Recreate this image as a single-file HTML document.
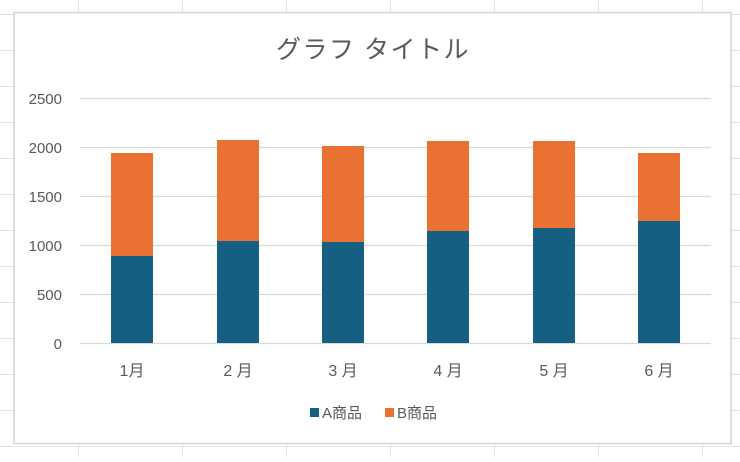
<!DOCTYPE html>
<html><head><meta charset="utf-8"><style>
body{margin:0;width:740px;height:457px;background:#fff;overflow:hidden}
svg text{font-family:"Liberation Sans","Noto Sans CJK JP",sans-serif;fill:#595959}
</style></head><body>
<svg width="740" height="457" xmlns="http://www.w3.org/2000/svg">
<g stroke="#e1e1e1" stroke-width="1">
<line x1="0" y1="14.5" x2="740" y2="14.5"/><line x1="0" y1="50.5" x2="740" y2="50.5"/><line x1="0" y1="86.5" x2="740" y2="86.5"/>
<line x1="0" y1="122.5" x2="740" y2="122.5"/><line x1="0" y1="158.5" x2="740" y2="158.5"/><line x1="0" y1="194.5" x2="740" y2="194.5"/>
<line x1="0" y1="230.5" x2="740" y2="230.5"/><line x1="0" y1="266.5" x2="740" y2="266.5"/><line x1="0" y1="302.5" x2="740" y2="302.5"/>
<line x1="0" y1="338.5" x2="740" y2="338.5"/><line x1="0" y1="374.5" x2="740" y2="374.5"/><line x1="0" y1="410.5" x2="740" y2="410.5"/><line x1="0" y1="446.5" x2="740" y2="446.5"/>
<line x1="78.5" y1="0" x2="78.5" y2="457"/><line x1="182.5" y1="0" x2="182.5" y2="457"/><line x1="286.5" y1="0" x2="286.5" y2="457"/>
<line x1="390.5" y1="0" x2="390.5" y2="457"/><line x1="494.5" y1="0" x2="494.5" y2="457"/><line x1="598.5" y1="0" x2="598.5" y2="457"/><line x1="702.5" y1="0" x2="702.5" y2="457"/>
</g>
<rect x="14" y="12.5" width="717" height="431" fill="#fff" stroke="#d4d4d4" stroke-width="1.5"/>
<text x="373" y="58" font-size="25" letter-spacing="1.5" text-anchor="middle">グラフ タイトル</text>
<g stroke="#d9d9d9" stroke-width="1.3">
<line x1="80" y1="98.5" x2="711" y2="98.5"/><line x1="80" y1="147.5" x2="711" y2="147.5"/><line x1="80" y1="196.5" x2="711" y2="196.5"/>
<line x1="80" y1="245.5" x2="711" y2="245.5"/><line x1="80" y1="294.5" x2="711" y2="294.5"/><line x1="80" y1="343.5" x2="711" y2="343.5"/>
</g>
<g font-size="15" text-anchor="end">
<text x="62" y="104">2500</text><text x="62" y="153">2000</text><text x="62" y="202">1500</text>
<text x="62" y="251">1000</text><text x="62" y="300">500</text><text x="62" y="349">0</text>
</g>
<g fill="#156082">
<rect x="111" y="256" width="42" height="87"/><rect x="217" y="241" width="42" height="102"/><rect x="322" y="242" width="42" height="101"/>
<rect x="427" y="231" width="42" height="112"/><rect x="533" y="228" width="42" height="115"/><rect x="638" y="221" width="42" height="122"/>
</g>
<g fill="#e97132">
<rect x="111" y="153" width="42" height="103"/><rect x="217" y="140" width="42" height="101"/><rect x="322" y="146" width="42" height="96"/>
<rect x="427" y="141" width="42" height="90"/><rect x="533" y="141" width="42" height="87"/><rect x="638" y="153" width="42" height="68"/>
</g>
<g font-size="16" text-anchor="middle">
<text x="132" y="376">1月</text><text x="238" y="376">2 月</text><text x="343" y="376">3 月</text>
<text x="448" y="376">4 月</text><text x="554" y="376">5 月</text><text x="659" y="376">6 月</text>
</g>
<rect x="310" y="408" width="9" height="9" fill="#156082"/>
<text x="322" y="418" font-size="15">A商品</text>
<rect x="385" y="408" width="9" height="9" fill="#e97132"/>
<text x="397" y="418" font-size="15">B商品</text>
</svg>
</body></html>
